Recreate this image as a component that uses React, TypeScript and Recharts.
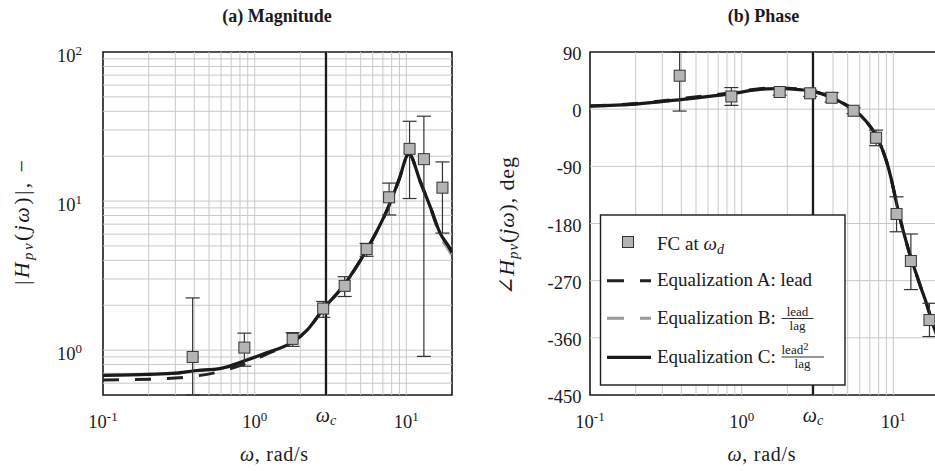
import React from 'react';
import {
  ComposedChart,
  Line,
  Scatter,
  XAxis,
  YAxis,
  ReferenceLine,
  ReferenceArea,
  ErrorBar,
} from 'recharts';

const FONT = "'Liberation Serif', 'DejaVu Serif', 'Times New Roman', serif";
const WC = 2.95;

// ---- model curves: magnitude ----
const magFreq = [0.1, 0.2, 0.3, 0.4, 0.6, 0.85, 1.2, 1.77, 2.2, 2.85, 3.9, 4.5, 5.5, 6.5, 7.5, 8.9, 10.4, 12.3, 14.4, 16.7, 19.6, 20];
const magA = [0.63, 0.638, 0.65, 0.668, 0.72, 0.805, 0.94, 1.13, 1.35, 1.9, 2.75, 3.4, 4.75, 6.5, 8.8, 13.7, 20.7, 13.7, 9.1, 6.1, 4.7, 4.5];
const magB = [0.678, 0.688, 0.7, 0.727, 0.755, 0.845, 0.96, 1.13, 1.35, 1.9, 2.75, 3.4, 4.75, 6.5, 8.8, 13.7, 20.5, 13.5, 8.9, 5.85, 4.45, 4.25];
const magC = [0.678, 0.688, 0.7, 0.727, 0.755, 0.845, 0.96, 1.13, 1.35, 1.9, 2.75, 3.4, 4.75, 6.5, 8.8, 13.7, 20.7, 13.7, 9.1, 6.1, 4.7, 4.5];

// ---- model curves: phase ----
const phaseFreq = [0.1, 0.2, 0.41, 0.83, 1.45, 1.8, 2.3, 2.94, 3.88, 4.6, 5.5, 6.5, 7.7, 8.96, 9.65, 10.43, 11.26, 12.1, 13.05, 14.1, 15.2, 16.5, 17.7, 20];
const phaseA = [5, 9, 17, 25.5, 33, 33.5, 32, 28.5, 19, 10, -1, -17, -42, -80, -108, -145, -179, -207, -234, -258, -281, -305, -329, -366];
const phaseB = [4.5, 8, 15.5, 24, 32, 32.5, 31, 28, 19, 10, -1, -17, -42, -80, -108, -145, -179, -207, -234, -258, -281, -305, -329, -366];
const phaseC = [5, 8, 15.5, 24, 32, 32.5, 31, 28, 19, 10, -1, -17, -42, -80, -108, -145, -179, -207, -234, -258, -281, -305, -329, -366];

// ---- FC at omega_d (measured points with error bars) ----
const fcFreq = [0.39, 0.855, 1.78, 2.83, 3.92, 5.47, 7.7, 10.5, 13.05, 17.3];
const fcMag = [0.9, 1.04, 1.19, 1.9, 2.7, 4.76, 10.6, 22.4, 19.1, 12.3];
const fcMagLow = [0.5, 0.78, 1.06, 1.66, 2.29, 4.26, 8.07, 10.4, 0.908, 6.1];
const fcMagHigh = [2.24, 1.3, 1.31, 2.12, 3.11, 5.2, 13.2, 34.3, 37.1, 18.3];
const fcPhase = [52.7, 20, 27, 25, 18, -2.5, -45, -165, -239, -332];
const fcPhaseLow = [-3, 6, 22, 20, 11, -7, -57.5, -193, -284, -358];
const fcPhaseHigh = [90, 34, 32, 30, 26, 2, -33, -138, -196.5, -305.6];

// ---- ticks & grid ----
const xTicks = [0.1, 1, WC, 10];
const magTicks = [1, 10, 100];
const phaseTicks = [90, 0, -90, -180, -270, -360, -450];
const xGrid = [0.2, 0.3, 0.4, 0.5, 0.6, 0.7, 0.8, 0.9, 1, 2, 3, 4, 5, 6, 7, 8, 9, 10];
const magGridY = [0.6, 0.7, 0.8, 0.9, 1, 2, 3, 4, 5, 6, 7, 8, 9, 10, 20, 30, 40, 50, 60, 70, 80, 90];
const phaseGridY = [0, -90, -180, -270, -360];

const toLine = (xs: number[], ys: number[]) => xs.map((w, i) => ({ w, y: ys[i] }));
const toPts = (ys: number[], lo: number[], hi: number[]) =>
  fcFreq.map((w, i) => ({ w, y: ys[i], err: [ys[i] - lo[i], hi[i] - ys[i]] }));

const magPts = toPts(fcMag, fcMagLow, fcMagHigh);
const phasePts = toPts(fcPhase, fcPhaseLow, fcPhaseHigh);

const GRID = '#c9c9c9';
const INK = '#1a1a1a';

const Square = (p: any) => {
  if (p.cx == null || p.cy == null) return null;
  return <rect x={p.cx - 5.5} y={p.cy - 5.5} width={11} height={11} fill="#b4b4b4" stroke="#333" strokeWidth={1} />;
};

const XTick = (props: any) => {
  const { x, y, payload } = props;
  const v = payload.value as number;
  if (Math.abs(v - WC) < 1e-9) {
    return (
      <text x={x} y={y + 27} textAnchor="middle" fontFamily={FONT} fontSize={20} fill={INK}>
        <tspan fontStyle="italic">ω</tspan>
        <tspan fontStyle="italic" fontSize={14} dy={3}>c</tspan>
      </text>
    );
  }
  const e = Math.round(Math.log10(v));
  return (
    <text x={x} y={y + 33} textAnchor="middle" fontFamily={FONT} fontSize={18.5} fill={INK}>
      <tspan>10</tspan>
      <tspan fontSize={13} dy={-7}>{String(e)}</tspan>
    </text>
  );
};

const MagYTick = (props: any) => {
  const { x, y, payload } = props;
  const e = Math.round(Math.log10(payload.value));
  return (
    <text x={x - 21} y={y + 10} textAnchor="end" fontFamily={FONT} fontSize={18.5} fill={INK}>
      <tspan>10</tspan>
      <tspan fontSize={13} dy={-7}>{String(e)}</tspan>
    </text>
  );
};

const PhaseYTick = (props: any) => {
  const { x, y, payload } = props;
  return (
    <text x={x - 8.5} y={y + 8} textAnchor="end" fontFamily={FONT} fontSize={18.5} fill={INK}>
      {String(payload.value)}
    </text>
  );
};

const lineProps = { dot: false, isAnimationActive: false, type: 'monotone' as const, dataKey: 'y' };

function MagChart() {
  return (
    <ComposedChart width={470} height={471} margin={{ top: 52, right: 18, bottom: 36, left: 0 }}>
      <XAxis
        xAxisId={0}
        type="number"
        dataKey="w"
        scale="log"
        domain={[0.1, 20]}
        ticks={xTicks}
        interval={0}
        allowDataOverflow
        height={40}
        tickSize={0}
        tickMargin={0}
        axisLine={false}
        tickLine={false}
        tick={<XTick />}
      />
      <YAxis
        yAxisId={0}
        type="number"
        dataKey="y"
        scale="log"
        domain={[0.5, 100]}
        ticks={magTicks}
        interval={0}
        allowDataOverflow
        width={103}
        tickSize={0}
        tickMargin={0}
        axisLine={false}
        tickLine={false}
        tick={<MagYTick />}
      />
      {xGrid.map((v) => (
        <ReferenceLine key={'gx' + v} x={v} stroke={GRID} strokeWidth={1} />
      ))}
      {magGridY.map((v) => (
        <ReferenceLine key={'gy' + v} y={v} stroke={GRID} strokeWidth={1} />
      ))}
      <ReferenceLine x={WC} stroke={INK} strokeWidth={2.2} />
      <Line {...lineProps} data={toLine(magFreq, magB)} stroke="#9a9a9a" strokeWidth={3} strokeDasharray="16 16" />
      <Line {...lineProps} data={toLine(magFreq, magA)} stroke="#222" strokeWidth={3} strokeDasharray="16 16" />
      <Line {...lineProps} data={toLine(magFreq, magC)} stroke={INK} strokeWidth={3.2} />
      <Scatter data={magPts} dataKey="y" shape={Square} isAnimationActive={false}>
        <ErrorBar dataKey="err" direction="y" width={7} stroke="#333" strokeWidth={1.2} />
      </Scatter>
      <ReferenceArea x1={0.1} x2={20} y1={0.5} y2={100} fill="none" fillOpacity={0} stroke={INK} strokeWidth={1.6} />
    </ComposedChart>
  );
}

function PhaseChart() {
  return (
    <ComposedChart width={480} height={471} margin={{ top: 52, right: 11, bottom: 36, left: 0 }}>
      <XAxis
        xAxisId={0}
        type="number"
        dataKey="w"
        scale="log"
        domain={[0.1, 20]}
        ticks={xTicks}
        interval={0}
        allowDataOverflow
        height={40}
        tickSize={0}
        tickMargin={0}
        axisLine={false}
        tickLine={false}
        tick={<XTick />}
      />
      <YAxis
        yAxisId={0}
        type="number"
        dataKey="y"
        domain={[-450, 90]}
        ticks={phaseTicks}
        interval={0}
        allowDataOverflow
        width={120}
        tickSize={0}
        tickMargin={0}
        axisLine={false}
        tickLine={false}
        tick={<PhaseYTick />}
      />
      {xGrid.map((v) => (
        <ReferenceLine key={'gx' + v} x={v} stroke={GRID} strokeWidth={1} />
      ))}
      {phaseGridY.map((v) => (
        <ReferenceLine key={'gy' + v} y={v} stroke={GRID} strokeWidth={1} />
      ))}
      <ReferenceLine x={WC} stroke={INK} strokeWidth={2.2} />
      <Line {...lineProps} data={toLine(phaseFreq, phaseB)} stroke="#9a9a9a" strokeWidth={3} strokeDasharray="16 16" />
      <Line {...lineProps} data={toLine(phaseFreq, phaseA)} stroke="#222" strokeWidth={3} strokeDasharray="16 16" />
      <Line {...lineProps} data={toLine(phaseFreq, phaseC)} stroke={INK} strokeWidth={3.2} />
      <Scatter data={phasePts} dataKey="y" shape={Square} isAnimationActive={false}>
        <ErrorBar dataKey="err" direction="y" width={7} stroke="#333" strokeWidth={1.2} />
      </Scatter>
      <ReferenceArea x1={0.1} x2={20} y1={-450} y2={90} fill="none" fillOpacity={0} stroke={INK} strokeWidth={1.6} />
    </ComposedChart>
  );
}

function Overlay() {
  const t = { fontFamily: FONT, fill: INK } as const;
  return (
    <svg width={935} height={471} style={{ position: 'absolute', left: 0, top: 0, pointerEvents: 'none' }}>
      {/* titles */}
      <text x={277} y={22} textAnchor="middle" fontSize={18} fontWeight="bold" {...t}>(a) Magnitude</text>
      <text x={763.5} y={22} textAnchor="middle" fontSize={18} fontWeight="bold" {...t}>(b) Phase</text>

      {/* x labels */}
      <text x={274} y={461} textAnchor="middle" fontSize={20} textLength={68} lengthAdjust="spacing" {...t}>
        <tspan fontStyle="italic">ω</tspan>
        <tspan>, rad/s</tspan>
      </text>
      <text x={761.5} y={461} textAnchor="middle" fontSize={20} textLength={68} lengthAdjust="spacing" {...t}>
        <tspan fontStyle="italic">ω</tspan>
        <tspan>, rad/s</tspan>
      </text>

      {/* y labels */}
      <text transform="translate(28.5,222.5) rotate(-90)" textAnchor="middle" fontSize={22} textLength={125} lengthAdjust="spacing" {...t}>
        <tspan>|</tspan>
        <tspan fontStyle="italic">H</tspan>
        <tspan fontStyle="italic" fontSize={15} dy={4}>pv</tspan>
        <tspan dy={-4}>(</tspan>
        <tspan fontStyle="italic">jω</tspan>
        <tspan>)|, −</tspan>
      </text>
      <text transform="translate(514,226) rotate(-90)" textAnchor="middle" fontSize={22} textLength={138} lengthAdjust="spacing" {...t}>
        <tspan>∠</tspan>
        <tspan fontStyle="italic">H</tspan>
        <tspan fontStyle="italic" fontSize={15} dy={4}>pv</tspan>
        <tspan dy={-4}>(</tspan>
        <tspan fontStyle="italic">jω</tspan>
        <tspan>), deg</tspan>
      </text>

      {/* legend */}
      <rect x={600.5} y={215} width={244.5} height={170} fill="#fff" stroke={INK} strokeWidth={1.4} />
      <rect x={622.5} y={236.5} width={11} height={11} fill="#b4b4b4" stroke="#333" strokeWidth={1} />
      <text x={657} y={250} fontSize={19} {...t}>
        <tspan>FC at </tspan>
        <tspan fontStyle="italic">ω</tspan>
        <tspan fontStyle="italic" fontSize={14} dy={4}>d</tspan>
      </text>

      <line x1={607} y1={280.7} x2={651} y2={280.7} stroke="#222" strokeWidth={3} strokeDasharray="17 16" />
      <text x={657} y={286} fontSize={19} {...t}>Equalization A: lead</text>

      <line x1={607} y1={318.3} x2={651} y2={318.3} stroke="#9a9a9a" strokeWidth={3} strokeDasharray="17 16" />
      <text x={657} y={324} fontSize={19} {...t}>Equalization B:</text>
      <text x={797.5} y={315.5} textAnchor="middle" fontSize={13} {...t}>lead</text>
      <line x1={781.5} y1={318.5} x2={813.5} y2={318.5} stroke={INK} strokeWidth={0.9} />
      <text x={797.5} y={329.5} textAnchor="middle" fontSize={13} {...t}>lag</text>

      <line x1={607} y1={357.3} x2={651} y2={357.3} stroke={INK} strokeWidth={3.2} />
      <text x={657} y={363} fontSize={19} {...t}>Equalization C:</text>
      <text x={781.5} y={354} fontSize={13} {...t}>
        <tspan>lead</tspan>
        <tspan fontSize={10.5} dy={-4}>2</tspan>
      </text>
      <line x1={781.5} y1={357} x2={824} y2={357} stroke={INK} strokeWidth={0.9} />
      <text x={802.5} y={368} textAnchor="middle" fontSize={13} {...t}>lag</text>
    </svg>
  );
}

export default function App() {
  return (
    <div
      style={{
        position: 'fixed',
        left: 0,
        top: 0,
        width: 935,
        height: 471,
        overflow: 'hidden',
        background: '#fff',
        fontFamily: FONT,
      }}
    >
      <div style={{ position: 'absolute', left: 0, top: 0 }}>
        <MagChart />
      </div>
      <div style={{ position: 'absolute', left: 470, top: 0 }}>
        <PhaseChart />
      </div>
      <Overlay />
    </div>
  );
}
